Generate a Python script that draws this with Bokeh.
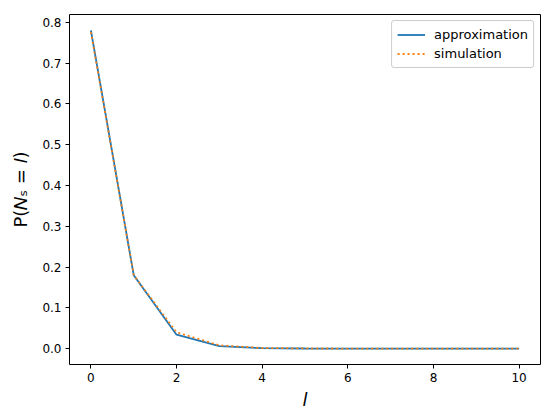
from bokeh.plotting import figure
from bokeh.models import Range1d, Legend, LegendItem, FixedTicker, CustomJSTickFormatter
from bokeh.embed import file_html
from bokeh.resources import INLINE

l_values = [0, 1, 2, 3, 4, 5, 6, 7, 8, 9, 10]
approximation = [0.780, 0.180, 0.034, 0.006, 0.001, 0.0002, 0.0, 0.0, 0.0, 0.0, 0.0]
simulation = [0.776, 0.180, 0.040, 0.008, 0.0015, 0.0003, 0.0001, 0.0, 0.0, 0.0, 0.0]
x_ticks = [0, 2, 4, 6, 8, 10]
y_ticks = [0.0, 0.1, 0.2, 0.3, 0.4, 0.5, 0.6, 0.7, 0.8]

FONT = "DejaVu Sans"

p = figure(frame_width=471, frame_height=350, output_backend="svg", toolbar_location=None,
           x_range=Range1d(-0.5, 10.5), y_range=Range1d(-0.039, 0.819),
           min_border_left=69, min_border_top=14, min_border_right=4, min_border_bottom=44)

r1 = p.line(l_values, approximation, line_color="#1f77b4", line_width=1.8)
r2 = p.line(l_values, simulation, line_color="#ff7f0e", line_width=1.8, line_dash="2 3")

p.xgrid.visible = False
p.ygrid.visible = False
p.outline_line_color = "black"
p.outline_line_width = 1
p.outline_line_alpha = 1

for ax in (p.xaxis[0], p.yaxis[0]):
    ax.axis_line_color = None
    ax.major_tick_in = 0
    ax.major_tick_out = 4
    ax.minor_tick_line_color = None
    ax.major_tick_line_color = "black"
    ax.major_label_text_font = FONT
    ax.major_label_text_font_size = "12px"
    ax.major_label_text_color = "black"
    ax.major_label_standoff = 4
    ax.axis_label_text_font = FONT
    ax.axis_label_text_font_size = "18px"
    ax.axis_label_text_color = "black"

p.xaxis.ticker = FixedTicker(ticks=x_ticks)
p.yaxis.ticker = FixedTicker(ticks=y_ticks)
p.yaxis.formatter = CustomJSTickFormatter(code="return tick.toFixed(1);")

p.xaxis.axis_label = "l"
p.xaxis.axis_label_text_font_style = "italic"
p.xaxis.axis_label_standoff = 4
p.yaxis.axis_label = "P(\U0001D441\u209B = \U0001D459)"
p.yaxis.axis_label_text_font_style = "normal"
p.yaxis.axis_label_standoff = 8

legend = Legend(items=[LegendItem(label="approximation", renderers=[r1]),
                       LegendItem(label="simulation", renderers=[r2])],
                location="top_right")
legend.label_text_font = FONT
legend.label_text_font_size = "13px"
legend.label_text_color = "black"
legend.border_line_color = "#cccccc"
legend.border_line_alpha = 1
legend.border_radius = 3
legend.glyph_width = 28
legend.label_standoff = 9
legend.spacing = 2
legend.padding = 5
legend.margin = 6
legend.label_height = 17
legend.glyph_height = 17
p.add_layout(legend)

open("out.html", "w").write(file_html(p, INLINE))
